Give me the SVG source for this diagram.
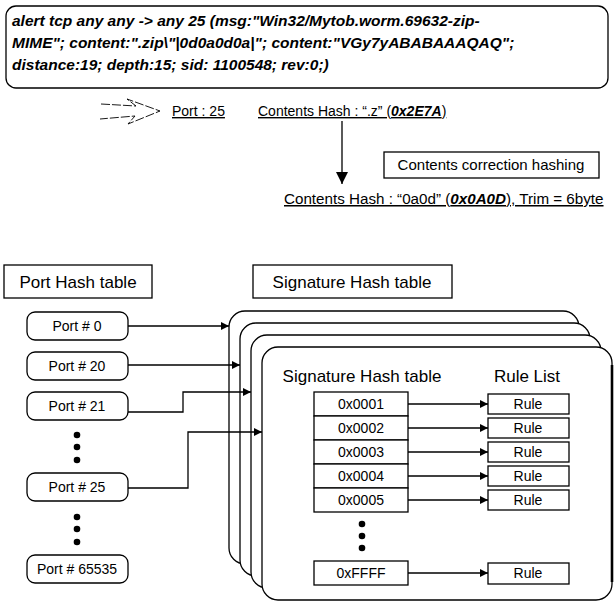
<svg xmlns="http://www.w3.org/2000/svg" width="614" height="604" viewBox="0 0 614 604">
<defs>
<marker id="ah" viewBox="0 0 10 10" refX="10" refY="5" markerWidth="9" markerHeight="8" markerUnits="userSpaceOnUse" orient="auto"><path d="M0,0 L10,5 L0,10 z" fill="#000"/></marker>
<marker id="ahb" viewBox="0 0 10 10" refX="10" refY="5" markerWidth="13" markerHeight="12" markerUnits="userSpaceOnUse" orient="auto"><path d="M0,0 L10,5 L0,10 z" fill="#000"/></marker>
</defs>
<style>
text{font-family:"Liberation Sans",Arial,sans-serif;fill:#000}
.sig{font-size:15.5px;font-weight:bold;font-style:italic}
.box{fill:#fff;stroke:#000;stroke-width:1.3}
.card{fill:#fff;stroke:#000;stroke-width:1.3}
.lbl{font-size:17px;text-anchor:middle}
.pt{font-size:14px;text-anchor:middle}
.cell{font-size:14px;text-anchor:middle}
.ln{fill:none;stroke:#000;stroke-width:1.3}
.dot{fill:#000}
</style>
<rect width="614" height="604" fill="#fff"/>
<g id="signature">
<rect x="6" y="6" width="602" height="82" rx="10" class="box" stroke-width="1.6"/>
<text class="sig" x="12" y="26">alert tcp any any -&gt; any 25 (msg:"Win32/Mytob.worm.69632-zip-</text>
<text class="sig" x="12" y="48">MIME"; content:".zip\"|0d0a0d0a|"; content:"VGy7yABABAAAQAQ";</text>
<text class="sig" x="12" y="70">distance:19; depth:15; sid: 1100548; rev:0;)</text>
</g>
<g id="hollow-arrow">
<path d="M101,104 L136,106 L127,99 L160,111 L128,124 L135,116 L100,119" fill="none" stroke="#000" stroke-width="0.9" stroke-dasharray="9,2"/>
</g>
<g id="port-label">
<text x="172" y="116" font-size="14px" text-decoration="underline">Port : 25</text>
</g>
<g id="contents-hash">
<text x="258" y="116" font-size="14px" text-decoration="underline">Contents Hash : “.z” (<tspan font-weight="bold" font-style="italic">0x2E7A</tspan>)</text>
</g>
<g id="correction">
<rect x="384" y="152" width="215" height="26" class="box"/>
<text x="491" y="170" font-size="15px" text-anchor="middle">Contents correction hashing</text>
</g>
<g id="trimmed-hash">
<text x="284" y="204" font-size="15.2px" text-decoration="underline">Contents Hash : “0a0d” (<tspan font-weight="bold" font-style="italic">0x0A0D</tspan>), Trim = 6byte</text>
</g>
<g id="port-table-title">
<rect x="4" y="265" width="148" height="33" class="box"/>
<text class="lbl" x="78" y="288">Port Hash table</text>
</g>
<g id="sig-table-title">
<rect x="253" y="265" width="199" height="33" class="box"/>
<text class="lbl" x="352" y="288">Signature Hash table</text>
</g>
<g id="cards">
<rect class="card" x="229" y="311" width="350" height="253" rx="16"/>
<rect class="card" x="240" y="323" width="350" height="253" rx="16"/>
<rect class="card" x="251" y="335" width="350" height="253" rx="16"/>
<rect class="card" x="262" y="347" width="350" height="253" rx="16"/>
<path d="M612,365 V582" stroke="#000" stroke-width="2.6" fill="none"/>
</g>
<g id="port-0"><rect class="box" x="27" y="312" width="101" height="28" rx="8"/><text class="pt" x="77" y="331">Port # 0</text></g>
<g id="port-20"><rect class="box" x="27" y="352" width="101" height="28" rx="8"/><text class="pt" x="77" y="371">Port # 20</text></g>
<g id="port-21"><rect class="box" x="27" y="392" width="101" height="28" rx="8"/><text class="pt" x="77" y="411">Port # 21</text></g>
<g id="port-dots-1"><circle class="dot" cx="77" cy="435" r="3.3"/><circle class="dot" cx="77" cy="447" r="3.3"/><circle class="dot" cx="77" cy="460" r="3.3"/></g>
<g id="port-25"><rect class="box" x="27" y="473" width="101" height="28" rx="8"/><text class="pt" x="77" y="492">Port # 25</text></g>
<g id="port-dots-2"><circle class="dot" cx="77" cy="517" r="3.3"/><circle class="dot" cx="77" cy="529" r="3.3"/><circle class="dot" cx="77" cy="542" r="3.3"/></g>
<g id="port-65535"><rect class="box" x="27" y="555" width="101" height="28" rx="8"/><text class="pt" x="77" y="574">Port # 65535</text></g>
<g id="inner-titles">
<text x="362" y="382" font-size="17px" text-anchor="middle">Signature Hash table</text>
<text x="527" y="382" font-size="17px" text-anchor="middle">Rule List</text>
</g>
<g id="hash-entries">
<rect class="box" x="314" y="392" width="94" height="24"/><text class="cell" x="361" y="409">0x0001</text>
<rect class="box" x="314" y="416" width="94" height="24"/><text class="cell" x="361" y="433">0x0002</text>
<rect class="box" x="314" y="440" width="94" height="24"/><text class="cell" x="361" y="457">0x0003</text>
<rect class="box" x="314" y="464" width="94" height="24"/><text class="cell" x="361" y="481">0x0004</text>
<rect class="box" x="314" y="488" width="94" height="24"/><text class="cell" x="361" y="505">0x0005</text>
<circle class="dot" cx="362" cy="524" r="3.3"/><circle class="dot" cx="362" cy="536" r="3.3"/><circle class="dot" cx="362" cy="548" r="3.3"/>
<rect class="box" x="314" y="561" width="94" height="24"/><text class="cell" x="361" y="578">0xFFFF</text>
</g>
<g id="rules">
<rect class="box" x="488" y="394" width="81" height="20"/><text class="cell" x="528" y="409">Rule</text>
<rect class="box" x="488" y="418" width="81" height="20"/><text class="cell" x="528" y="433">Rule</text>
<rect class="box" x="488" y="442" width="81" height="20"/><text class="cell" x="528" y="457">Rule</text>
<rect class="box" x="488" y="466" width="81" height="20"/><text class="cell" x="528" y="481">Rule</text>
<rect class="box" x="488" y="490" width="81" height="20"/><text class="cell" x="528" y="505">Rule</text>
<rect class="box" x="488" y="563" width="81" height="21"/><text class="cell" x="528" y="578">Rule</text>
</g>
<g id="connectors">
<path class="ln" d="M342,121 V184" stroke-width="2.2" marker-end="url(#ahb)"/>
<path class="ln" d="M128,326 H229" marker-end="url(#ah)"/>
<path class="ln" d="M128,365 H240" marker-end="url(#ah)"/>
<path class="ln" d="M128,412 H183 V392 H251" marker-end="url(#ah)"/>
<path class="ln" d="M128,488 H188 V432 H262" marker-end="url(#ah)"/>
<path class="ln" d="M408,404 H488" marker-end="url(#ah)"/>
<path class="ln" d="M408,428 H488" marker-end="url(#ah)"/>
<path class="ln" d="M408,452 H488" marker-end="url(#ah)"/>
<path class="ln" d="M408,476 H488" marker-end="url(#ah)"/>
<path class="ln" d="M408,500 H488" marker-end="url(#ah)"/>
<path class="ln" d="M408,573 H488" marker-end="url(#ah)"/>
</g>
</svg>
